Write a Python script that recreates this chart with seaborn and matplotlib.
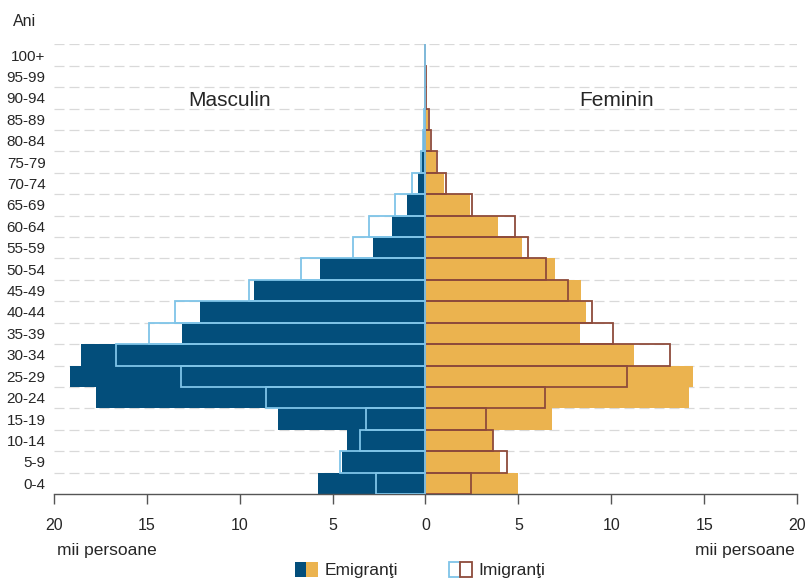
import numpy as np
import pandas as pd
import matplotlib
matplotlib.use("Agg")
import matplotlib.pyplot as plt
from matplotlib.patches import Patch
from matplotlib.legend_handler import HandlerTuple
from matplotlib.ticker import FuncFormatter
import seaborn as sns

ages = ["100+", "95-99", "90-94", "85-89", "80-84", "75-79", "70-74", "65-69",
        "60-64", "55-59", "50-54", "45-49", "40-44", "35-39", "30-34", "25-29",
        "20-24", "15-19", "10-14", "5-9", "0-4"]

male_emig = [0.01, 0.01, 0.03, 0.08, 0.15, 0.30, 0.41, 0.99, 1.80, 2.82, 5.68,
             9.22, 12.14, 13.12, 18.54, 19.16, 17.75, 7.95, 4.24, 4.51, 5.81]
male_imm = [0.02, 0.02, 0.05, 0.10, 0.15, 0.25, 0.74, 1.66, 3.02, 3.92, 6.70,
            9.49, 13.50, 14.87, 16.65, 13.16, 8.58, 3.20, 3.54, 4.60, 2.66]
fem_emig = [0.0, 0.01, 0.03, 0.15, 0.25, 0.57, 1.02, 2.42, 3.90, 5.19, 6.95,
            8.35, 8.63, 8.31, 11.20, 14.39, 14.16, 6.80, 3.62, 4.00, 4.97]
fem_imm = [0.0, 0.01, 0.05, 0.20, 0.30, 0.62, 1.10, 2.53, 4.80, 5.53, 6.50,
           7.66, 8.96, 10.10, 13.16, 10.86, 6.45, 3.25, 3.65, 4.40, 2.44]

x_ticks = [-20, -15, -10, -5, 0, 5, 10, 15, 20]

C_MALE = "#034e7b"
C_FEM = "#ebb34f"
C_MALE_IMM = "#7fc4e8"
C_FEM_IMM = "#8e4b3b"
GRID = "#d9d9d9"
TXT = "#262626"

sns.set_theme(style="white")
plt.rcParams["font.family"] = ["Liberation Sans", "DejaVu Sans"]

df = pd.DataFrame({
    "age": ages,
    "male_emig": [-v for v in male_emig],
    "male_imm": [-v for v in male_imm],
    "fem_emig": fem_emig,
    "fem_imm": fem_imm,
})

fig = plt.figure(figsize=(8.08, 5.80), dpi=100)
ax = fig.add_axes([0.0668, 0.1483, 0.9196, 0.7753])

for y in np.arange(-0.5, len(ages) - 1, 1.0):
    ax.axhline(y, color=GRID, lw=0.9, ls=(0, (8, 4)), zorder=0)

sns.barplot(data=df, x="male_emig", y="age", order=ages, orient="h",
            color=C_MALE, saturation=1, width=1.0, linewidth=0, ax=ax, zorder=2)
sns.barplot(data=df, x="fem_emig", y="age", order=ages, orient="h",
            color=C_FEM, saturation=1, width=1.0, linewidth=0, ax=ax, zorder=2)
sns.barplot(data=df, x="fem_imm", y="age", order=ages, orient="h",
            color=C_FEM_IMM, saturation=1, width=1.0, fill=False,
            linewidth=1.3, ax=ax, zorder=3)
sns.barplot(data=df, x="male_imm", y="age", order=ages, orient="h",
            color=C_MALE_IMM, saturation=1, width=1.0, fill=False,
            linewidth=1.3, ax=ax, zorder=4)

ax.set_xlim(-20, 20)
ax.set_ylim(len(ages) - 0.5, -0.5)
ax.set_xticks(x_ticks)
ax.xaxis.set_major_formatter(FuncFormatter(lambda v, p: f"{abs(int(v))}"))
ax.set_xlabel("")
ax.set_ylabel("")

for s in ["top", "right", "left"]:
    ax.spines[s].set_visible(False)
ax.spines["bottom"].set_color("#555555")
ax.spines["bottom"].set_linewidth(1.0)
ax.tick_params(axis="x", which="both", bottom=True, length=7, width=1.0,
               color="#555555", labelsize=11.5, labelcolor=TXT, pad=10)
ax.tick_params(axis="y", left=False, length=0, labelsize=11, labelcolor=TXT,
               pad=6)
ax.grid(False)

fig.text(25 / 808, 1 - 21 / 580, "Ani", ha="center", va="center",
         fontsize=11.5, color=TXT)
fig.text(230 / 808, 1 - 100 / 580, "Masculin", ha="center", va="center",
         fontsize=15, color=TXT)
fig.text(617 / 808, 1 - 100 / 580, "Feminin", ha="center", va="center",
         fontsize=15, color=TXT)
fig.text(107 / 808, 1 - 550 / 580, "mii persoane", ha="center", va="center",
         fontsize=12.5, color=TXT)
fig.text(745 / 808, 1 - 550 / 580, "mii persoane", ha="center", va="center",
         fontsize=12.5, color=TXT)

h_emig = (Patch(facecolor=C_MALE, edgecolor="none"),
          Patch(facecolor=C_FEM, edgecolor="none"))
h_imm = (Patch(facecolor="white", edgecolor=C_MALE_IMM, lw=1.3),
         Patch(facecolor="white", edgecolor=C_FEM_IMM, lw=1.3))
fig.legend([h_emig, h_imm], ["Emigranţi", "Imigranţi"],
           handler_map={tuple: HandlerTuple(ndivide=None, pad=0)},
           loc="center", bbox_to_anchor=(0.52, 1 - 570 / 580), ncol=2,
           frameon=False, fontsize=12.5, handlelength=1.33, handleheight=1.0,
           handletextpad=0.4, columnspacing=2.9, labelcolor=TXT,
           borderpad=0.2)

fig.savefig("out.png", dpi=100)
